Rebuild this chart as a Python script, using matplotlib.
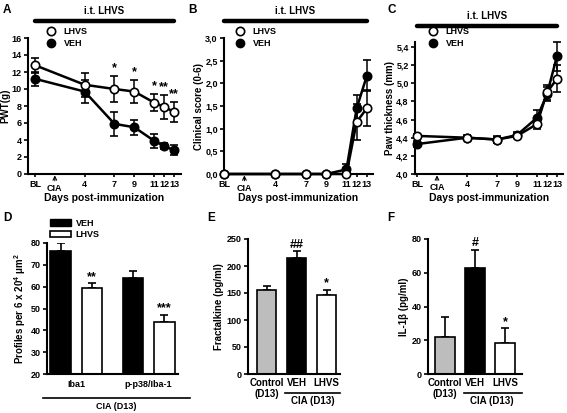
import matplotlib
matplotlib.use("Agg")
import matplotlib.pyplot as plt
import matplotlib.transforms as mtransforms
from matplotlib.lines import Line2D
from matplotlib.patches import Patch
import numpy as np

plt.rcParams['font.family'] = ['Liberation Sans', 'DejaVu Sans']
plt.rcParams['font.weight'] = 'bold'
plt.rcParams['axes.labelweight'] = 'bold'
plt.rcParams['mathtext.fontset'] = 'custom'
plt.rcParams['mathtext.rm'] = 'Liberation Sans:bold'
plt.rcParams['mathtext.default'] = 'rm'

# ---- data ----
# days post-immunization (BL drawn at -1)
days = [-1, 4, 7, 9, 11, 12, 13]
day_labels = ['BL', '4', '7', '9', '11', '12', '13']
cia_day = 1

pwt_lhvs = [12.8, 10.5, 10.0, 9.7, 8.4, 7.9, 7.3]
pwt_lhvs_err = [0.9, 1.4, 1.5, 1.4, 1.0, 1.4, 1.2]
pwt_veh = [11.2, 9.7, 5.9, 5.5, 3.9, 3.3, 2.8]
pwt_veh_err = [0.8, 1.3, 1.4, 0.9, 0.8, 0.4, 0.6]
pwt_sig = ['', '', '*', '*', '*', '**', '**']

score_lhvs = [0, 0, 0, 0, 0.0, 1.15, 1.45]
score_lhvs_err = [0, 0, 0, 0, 0.05, 0.4, 0.4]
score_veh = [0, 0, 0, 0, 0.1, 1.45, 2.17]
score_veh_err = [0, 0, 0, 0, 0.12, 0.3, 0.35]

paw_lhvs = [4.42, 4.40, 4.38, 4.42, 4.55, 4.90, 5.05]
paw_lhvs_err = [0.02, 0.02, 0.03, 0.02, 0.05, 0.08, 0.15]
paw_veh = [4.33, 4.40, 4.38, 4.43, 4.62, 4.88, 5.30]
paw_veh_err = [0.03, 0.03, 0.04, 0.03, 0.08, 0.08, 0.16]

prof_groups = ['Iba1', 'p-p38/Iba-1']
prof_veh = [76.5, 64.0]
prof_veh_err = [3.5, 3.0]
prof_lhvs = [59.5, 44.0]
prof_lhvs_err = [2.0, 3.2]
prof_sig = ['**', '***']

cyto_groups = ['Control\n(D13)', 'VEH', 'LHVS']
cyto_colors = ['#bdbdbd', 'black', 'white']
fkn = [155, 215, 146]
fkn_err = [8, 12, 10]
fkn_sig = ['', '##', '*']
il1b = [22, 63, 18.5]
il1b_err = [12, 10.5, 8.5]
il1b_sig = ['', '#', '*']

W, H = 567, 413
fig = plt.figure(figsize=(W/100, H/100), dpi=100)

def rect(l, r, t, b):
    return [l/W, 1-b/H, (r-l)/W, (b-t)/H]

def style(ax):
    for s in ['top', 'right']:
        ax.spines[s].set_visible(False)
    for s in ['left', 'bottom']:
        ax.spines[s].set_linewidth(1.5)
    ax.tick_params(direction='out', length=3, width=1.2, labelsize=6.5, pad=1.5)

def line_panel(ax, lhvs, lhvs_err, veh, veh_err, xlim, ylim, yticks, ylabel, leg_x, leg_y):
    style(ax)
    kw = dict(fmt='-o', color='black', ms=6, lw=1.8, mew=1.2, capsize=3,
              elinewidth=1.1, capthick=1.1, clip_on=False)
    ax.errorbar(days, veh, yerr=veh_err, mfc='black', zorder=3, **kw)
    ax.errorbar(days, lhvs, yerr=lhvs_err, mfc='white', zorder=4, **kw)
    ax.set_xlim(*xlim)
    ax.set_ylim(*ylim)
    ax.set_yticks(yticks)
    ax.set_yticklabels([('%.1f' % v).replace('.', ',') if isinstance(v, float) else str(v) for v in yticks])
    ax.set_xticks(days)
    ax.set_xticklabels(day_labels)
    ax.tick_params(axis='x', length=2.5)
    ax.set_ylabel(ylabel, fontsize=7, labelpad=1)
    ax.set_xlabel('Days post-immunization', fontsize=7.5, labelpad=3)
    tr = mtransforms.blended_transform_factory(ax.transData, ax.transAxes)
    ax.annotate('CIA', xy=(cia_day, -0.01), xycoords=tr, xytext=(cia_day, -0.07),
                textcoords=tr, ha='center', va='top', fontsize=6.5,
                arrowprops=dict(arrowstyle='->', lw=0.8, color='black', shrinkA=0, shrinkB=0))
    # treatment bar
    ax.plot([days[0], days[-1]], [1.125, 1.125], transform=tr, color='black', lw=3.2,
            solid_capstyle='round', clip_on=False)
    ax.text((days[0] + days[-1]) / 2, 1.16, 'i.t. LHVS', transform=tr, ha='center',
            va='bottom', fontsize=7)
    handles = [Line2D([], [], marker='o', ls='none', mfc='white', mec='black', mew=1.2, ms=6),
               Line2D([], [], marker='o', ls='none', mfc='black', mec='black', ms=6)]
    ax.legend(handles, ['LHVS', 'VEH'], loc='upper left', bbox_to_anchor=(leg_x, leg_y),
              frameon=False, fontsize=6.5, handlelength=1, handletextpad=0.9,
              labelspacing=0.3, borderpad=0, borderaxespad=0)

def bar_panel(ax, x, vals, errs, colors):
    ax.bar(x, vals, width=0.65, color=colors, edgecolor='black', lw=1.2, zorder=2)
    ax.errorbar(x, vals, yerr=[np.zeros(len(vals)), errs], fmt='none', ecolor='black',
                elinewidth=1.2, capsize=3, capthick=1.2, zorder=1)

# ---- A ----
axA = fig.add_axes(rect(28, 181, 38, 174))
line_panel(axA, pwt_lhvs, pwt_lhvs_err, pwt_veh, pwt_veh_err, (-1.7, 13.7), (0, 16),
           list(range(0, 17, 2)), 'PWT(g)', 0.12, 1.08)
for d, v, e, s in zip(days, pwt_lhvs, pwt_lhvs_err, pwt_sig):
    if s:
        axA.text(d, v + e + 0.2, s, ha='center', va='bottom', fontsize=9)

# ---- B ----
axB = fig.add_axes(rect(224, 373, 38, 174))
line_panel(axB, score_lhvs, score_lhvs_err, score_veh, score_veh_err, (-1.0, 13.6), (0, 3.0),
           [0.0, 0.5, 1.0, 1.5, 2.0, 2.5, 3.0], 'Clinical score (0-6)', 0.077, 1.08)

# ---- C ----
axC = fig.add_axes(rect(415, 563, 42, 174))
line_panel(axC, paw_lhvs, paw_lhvs_err, paw_veh, paw_veh_err, (-1.2, 13.6), (4.0, 5.455),
           [4.0, 4.2, 4.4, 4.6, 4.8, 5.0, 5.2, 5.4], 'Paw thickness (mm)', 0.09, 1.11)

# ---- D ----
axD = fig.add_axes(rect(47, 178, 243, 374))
style(axD)
gpos = np.arange(len(prof_groups)) * 2.3
bar_panel(axD, gpos, prof_veh, prof_veh_err, 'black')
bar_panel(axD, gpos + 1, prof_lhvs, prof_lhvs_err, 'white')
for x, v, e, s in zip(gpos + 1, prof_lhvs, prof_lhvs_err, prof_sig):
    axD.text(x, v + e + 0.3, s, ha='center', va='bottom', fontsize=9)
axD.set_xlim(-0.43, 3.73)
axD.set_ylim(20, 80)
axD.set_yticks(range(20, 81, 10))
axD.set_xticks(gpos + 0.5)
axD.set_xticklabels(prof_groups)
axD.tick_params(axis='x', length=0, pad=4)
axD.set_ylabel('Profiles per 6 x 20$^{4}$ μm$^{2}$', fontsize=7, labelpad=2)
trD = mtransforms.blended_transform_factory(axD.transData, axD.transAxes)
axD.plot([-0.56, 4.1], [-0.187, -0.187], transform=trD, color='black', lw=1.2, clip_on=False)
axD.text(1.77, -0.215, 'CIA (D13)', transform=trD, ha='center', va='top', fontsize=6.5)
axD.legend([Patch(facecolor='black', edgecolor='black'), Patch(facecolor='white', edgecolor='black', lw=1.2)],
           ['VEH', 'LHVS'], loc='upper left', bbox_to_anchor=(0.02, 1.185), frameon=False,
           fontsize=6.5, handlelength=2.4, handleheight=0.7, handletextpad=0.5,
           labelspacing=0.25, borderpad=0, borderaxespad=0)

# ---- E and F ----
def cyto_panel(ax, vals, errs, sig, ylim, yticks, ylabel, xlim):
    style(ax)
    x = np.arange(len(vals))
    bar_panel(ax, x, vals, errs, cyto_colors)
    for xi, v, e, s in zip(x, vals, errs, sig):
        if s:
            ax.text(xi, v + e + ylim[1] * 0.005, s, ha='center', va='bottom', fontsize=9)
    ax.set_xlim(*xlim)
    ax.set_ylim(*ylim)
    ax.set_yticks(yticks)
    ax.set_xticks(x)
    ax.set_xticklabels(cyto_groups, fontsize=7, linespacing=1.1)
    ax.tick_params(axis='x', length=0, pad=3)
    ax.set_ylabel(ylabel, fontsize=7, labelpad=2)
    tr = mtransforms.blended_transform_factory(ax.transData, ax.transAxes)
    ax.plot([0.62, xlim[1]], [-0.14, -0.14], transform=tr, color='black', lw=1.2, clip_on=False)
    ax.text(1.55, -0.16, 'CIA (D13)', transform=tr, ha='center', va='top', fontsize=7)

axE = fig.add_axes(rect(248, 340, 239, 374))
cyto_panel(axE, fkn, fkn_err, fkn_sig, (0, 250), range(0, 251, 50), 'Fractalkine (pg/ml)', (-0.62, 2.45))

axF = fig.add_axes(rect(428, 522, 239, 374))
cyto_panel(axF, il1b, il1b_err, il1b_sig, (0, 80), range(0, 81, 20), 'IL-1β (pg/ml)', (-0.57, 2.57))

# panel letters
for lab, x, y in [('A', 3, 4), ('B', 188, 4), ('C', 387, 4), ('D', 3, 212), ('E', 207, 212), ('F', 387, 212)]:
    fig.text(x/W, 1 - y/H, lab, fontsize=8.5, va='top', ha='left')

fig.savefig('out.png', dpi=100)
